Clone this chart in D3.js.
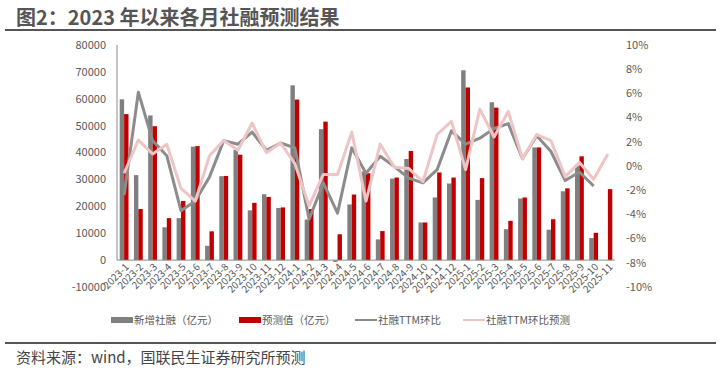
<!DOCTYPE html>
<html>
<head>
<meta charset="utf-8">
<script src="https://cdn.jsdelivr.net/npm/d3@7"></script>
<style>
  body { margin: 0; background: #fff; }
  text { font-family: "Noto Sans CJK SC", "Noto Sans", sans-serif; }
</style>
</head>
<body>
<div id="chart"></div>
<script>
// months on the x axis
const months = ["2023-1","2023-2","2023-3","2023-4","2023-5","2023-6","2023-7","2023-8","2023-9","2023-10","2023-11","2023-12",
  "2024-1","2024-2","2024-3","2024-4","2024-5","2024-6","2024-7","2024-8","2024-9","2024-10","2024-11","2024-12",
  "2025-1","2025-2","2025-3","2025-4","2025-5","2025-6","2025-7","2025-8","2025-9","2025-10","2025-11"];

// 新增社融（亿元）
const actual = [59800, 31600, 53800, 12200, 15600, 42200, 5300, 31200, 41000, 18500, 24500, 19400,
  65000, 15100, 48700, -650, 20700, 33000, 7700, 30300, 37600, 14000, 23300, 28500,
  70600, 22400, 58700, 11500, 22900, 41900, 11300, 25600, 35000, 8200, null];

// 预测值（亿元）
const forecast = [54300, 19000, 49800, 15600, 22000, 42400, 10700, 31300, 39200, 21300, 23500, 19600,
  59700, 19000, 51500, 9600, 24400, 32300, 10800, 30700, 40600, 14000, 32600, 30700,
  64200, 30500, 56700, 14600, 23300, 41900, 15200, 26700, 38600, 10150, 26400];

// 社融TTM环比 (%)
const ttm = [-2.4, 6.1, 2.1, 0.85, -3.7, -2.9, -0.9, 2.1, 1.8, 2.8, 1.3, 1.9,
  1.5, -4.4, -1.4, -3.9, 1.5, -0.6, 0.8, -0.05, -1.0, -1.4, -0.3, 2.9,
  1.8, 2.3, 3.1, 3.5, 0.6, 2.5, 1.2, -1.2, -0.5, -1.65, null];

// 社融TTM环比预测 (%)
const ttmForecast = [-0.6, 2.15, 1.0, 1.8, -1.85, -2.9, 0.85, 2.1, 1.3, 3.55, 1.1, 1.9,
  0.2, -3.3, -0.7, -0.7, 2.8, -2.9, 1.8, -0.1, -0.2, -1.3, 2.6, 3.7,
  -0.3, 4.7, 2.4, 4.5, 0.6, 2.6, 2.1, -0.9, 0.3, -1.1, 1.0];

const leftTicks = [-10000, 0, 10000, 20000, 30000, 40000, 50000, 60000, 70000, 80000];
const rightTicks = [-10, -8, -6, -4, -2, 0, 2, 4, 6, 8, 10];

const width = 720, height = 370;
const margin = {top: 45, bottom: 287, left: 117, right: 615};
const textColor = "#595959";

const svg = d3.select("#chart").append("svg")
  .attr("width", width).attr("height", height);

svg.append("rect").attr("width", width).attr("height", height).attr("fill", "#fff");

// title + rules
svg.append("text").attr("x", 16).attr("y", 25)
  .attr("font-size", 20).attr("font-weight", "bold").attr("fill", "#555")
  .text("图2：2023 年以来各月社融预测结果");
svg.append("line").attr("x1", 5).attr("x2", 716).attr("y1", 30).attr("y2", 30)
  .attr("stroke", "#555").attr("stroke-width", 2);
svg.append("line").attr("x1", 5).attr("x2", 716).attr("y1", 343).attr("y2", 343)
  .attr("stroke", "#555").attr("stroke-width", 2);
svg.append("text").attr("x", 16).attr("y", 363)
  .attr("font-size", 15).attr("fill", "#444")
  .text("资料来源：wind，国联民生证券研究所预测");

const x = d3.scaleBand().domain(months).range([margin.left, margin.right]).paddingInner(0.38).paddingOuter(0.19);
const xs = d3.scaleBand().domain(["a", "f"]).range([0, x.bandwidth()]);
const y = d3.scaleLinear().domain([-10000, 80000]).range([margin.bottom, margin.top]);
const y2 = d3.scaleLinear().domain([-10, 10]).range([margin.bottom, margin.top]);
const cx = d => x(d) + x.bandwidth() / 2;

// left axis labels
svg.append("g").selectAll("text").data(leftTicks).join("text")
  .attr("x", 106).attr("y", d => y(d)).attr("dy", "0.35em")
  .attr("text-anchor", "end").attr("font-size", 11).attr("fill", textColor)
  .text(d => d);

// right axis labels
svg.append("g").selectAll("text").data(rightTicks).join("text")
  .attr("x", 626).attr("y", d => y2(d)).attr("dy", "0.35em")
  .attr("font-size", 11).attr("fill", textColor)
  .text(d => d + "%");

// bars
const gBars = svg.append("g");
gBars.selectAll("rect.a").data(months.map((m, i) => ({m, v: actual[i]})).filter(d => d.v != null))
  .join("rect").attr("class", "a")
  .attr("x", d => x(d.m) + xs("a")).attr("width", xs.bandwidth())
  .attr("y", d => y(Math.max(0, d.v))).attr("height", d => Math.abs(y(d.v) - y(0)))
  .attr("fill", "#7f7f7f");
gBars.selectAll("rect.f").data(months.map((m, i) => ({m, v: forecast[i]})))
  .join("rect").attr("class", "f")
  .attr("x", d => x(d.m) + xs("f")).attr("width", xs.bandwidth())
  .attr("y", d => y(Math.max(0, d.v))).attr("height", d => Math.abs(y(d.v) - y(0)))
  .attr("fill", "#c00000");

// axes lines
svg.append("line").attr("x1", margin.left).attr("x2", margin.left).attr("y1", margin.top).attr("y2", y(0))
  .attr("stroke", "#8c8c8c").attr("stroke-width", 1);
svg.append("line").attr("x1", margin.left).attr("x2", margin.right).attr("y1", y(0)).attr("y2", y(0))
  .attr("stroke", "#8c8c8c").attr("stroke-width", 1);

// x labels
svg.append("g").selectAll("text").data(months).join("text")
  .attr("transform", d => `translate(${cx(d) + 3},${y(0) + 5}) rotate(-45)`)
  .attr("text-anchor", "end").attr("dy", "0.35em")
  .attr("font-size", 10).attr("fill", textColor)
  .text(d => d);

// lines
const line = d3.line()
  .defined(d => d.v != null)
  .x(d => cx(d.m)).y(d => y2(d.v));

svg.append("path").datum(months.map((m, i) => ({m, v: ttm[i]})))
  .attr("d", line).attr("fill", "none")
  .attr("stroke", "#8c8c8c").attr("stroke-width", 3).attr("stroke-linejoin", "round");
svg.append("path").datum(months.map((m, i) => ({m, v: ttmForecast[i]})))
  .attr("d", line).attr("fill", "none")
  .attr("stroke", "#efc4c4").attr("stroke-width", 3).attr("stroke-linejoin", "round");

// legend
const legend = [
  {name: "新增社融（亿元）", type: "bar", color: "#7f7f7f", x: 111},
  {name: "预测值（亿元）", type: "bar", color: "#c00000", x: 239},
  {name: "社融TTM环比", type: "line", color: "#8c8c8c", x: 355},
  {name: "社融TTM环比预测", type: "line", color: "#efc4c4", x: 463}
];
const lg = svg.append("g").selectAll("g").data(legend).join("g")
  .attr("transform", d => `translate(${d.x},320)`);
lg.filter(d => d.type === "bar").append("rect")
  .attr("x", 0).attr("y", -3).attr("width", 22).attr("height", 6).attr("fill", d => d.color);
lg.filter(d => d.type === "line").append("line")
  .attr("x1", 0).attr("x2", 22).attr("y1", 0).attr("y2", 0)
  .attr("stroke", d => d.color).attr("stroke-width", 2);
lg.append("text").attr("x", 23).attr("dy", "0.35em")
  .attr("font-size", 10.5).attr("fill", textColor)
  .text(d => d.name);
</script>
</body>
</html>
